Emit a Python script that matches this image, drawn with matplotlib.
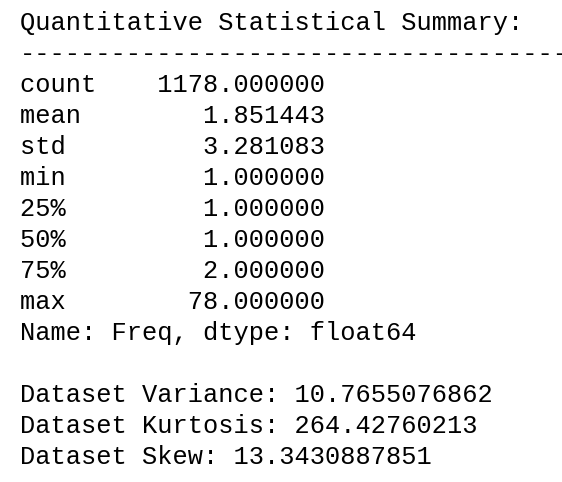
import matplotlib
matplotlib.use("Agg")
import matplotlib.pyplot as plt

stat_names = ["count", "mean", "std", "min", "25%", "50%", "75%", "max"]
stat_values = [1178.0, 1.851443, 3.281083, 1.0, 1.0, 1.0, 2.0, 78.0]
variance = "10.7655076862"
kurtosis = "264.42760213"
skew = "13.3430887851"

lines = ["Quantitative Statistical Summary:", "-" * 37]
for n, v in zip(stat_names, stat_values):
    lines.append(f"{n:<5}{v:>15.6f}")
lines.append("Name: Freq, dtype: float64")
lines.append("")
lines.append(f"Dataset Variance: {variance}")
lines.append(f"Dataset Kurtosis: {kurtosis}")
lines.append(f"Dataset Skew: {skew}")

W, H = 562, 482
fig = plt.figure(figsize=(W / 100, H / 100), dpi=100)
fig.patch.set_facecolor("white")
for i, s in enumerate(lines):
    y = 23 + 31 * i
    fig.text(20 / W, 1 - y / H, s, family="Liberation Mono", fontsize=18.3,
             va="center", ha="left", color="black")
fig.savefig("out.png", dpi=100)
